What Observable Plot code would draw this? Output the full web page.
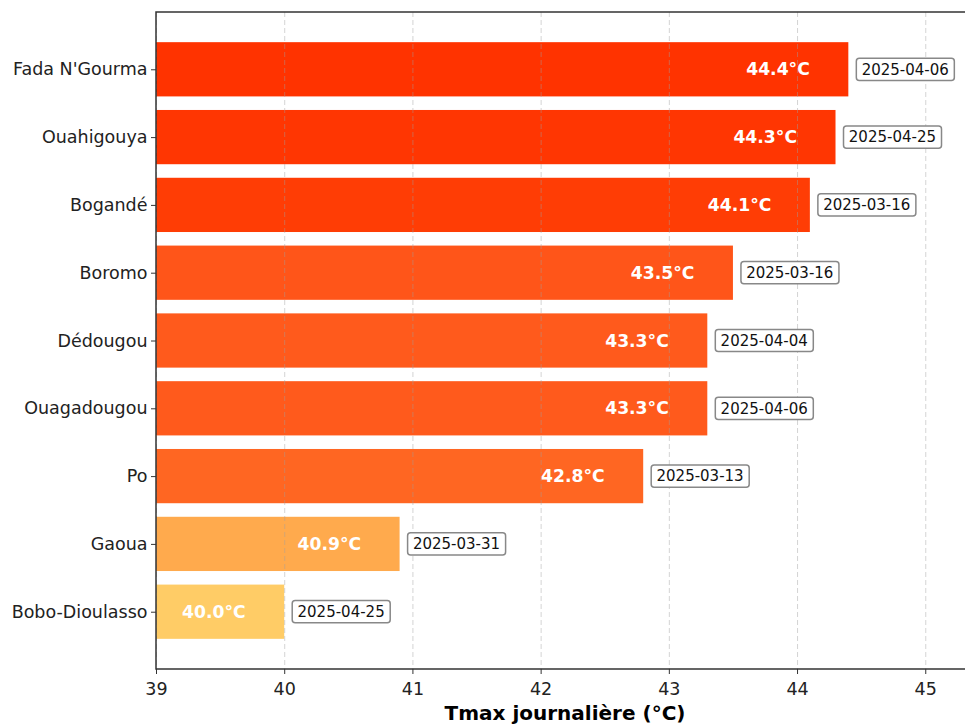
<!DOCTYPE html>
<html>
<head>
<meta charset="utf-8">
<script src="https://cdn.jsdelivr.net/npm/d3@7"></script>
<script src="https://cdn.jsdelivr.net/npm/@observablehq/plot@0.6"></script>
<style>
  html, body { margin: 0; padding: 0; background: #fff; overflow: hidden; }
  #chart svg { display: block; }
</style>
</head>
<body>
<div id="chart"></div>
<script>
const stations = ["Fada N'Gourma", "Ouahigouya", "Bogandé", "Boromo", "Dédougou", "Ouagadougou", "Po", "Gaoua", "Bobo-Dioulasso"];
const tmax = [44.4, 44.3, 44.1, 43.5, 43.3, 43.3, 42.8, 40.9, 40.0];
const dates = ["2025-04-06", "2025-04-25", "2025-03-16", "2025-03-16", "2025-04-04", "2025-04-06", "2025-03-13", "2025-03-31", "2025-04-25"];
const xTicks = [39, 40, 41, 42, 43, 44, 45];
const xLabel = "Tmax journalière (°C)";

const data = stations.map((s, i) => ({station: s, tmax: tmax[i], date: dates[i], label: tmax[i].toFixed(1) + "°C"}));

const frameLines = (index, scales, values, dims) => {
  const {width, height, marginLeft, marginTop, marginBottom} = dims;
  const yb = height - marginBottom;
  return d3.create("svg:path")
    .attr("d", `M${width},${marginTop}H${marginLeft}V${yb}H${width}`)
    .attr("fill", "none")
    .attr("stroke", "#333")
    .attr("stroke-width", 1.5)
    .node();
};

const chart = Plot.plot({
  width: 965,
  height: 726,
  marginLeft: 156,
  marginRight: 0,
  marginTop: 12,
  marginBottom: 57,
  style: {fontFamily: "DejaVu Sans", fontSize: "17.5px", color: "#222", background: "#fff"},
  x: {domain: [39, 45.31]},
  y: {domain: stations, paddingInner: 0.2, paddingOuter: 0.445, round: false},
  color: {
    type: "linear",
    domain: [40.0, 40.9, 42.8, 43.5, 44.1, 44.4],
    range: ["#ffcc66", "#ffaa4d", "#ff6622", "#ff5519", "#ff3d05", "#ff3300"],
    interpolate: "rgb"
  },
  marks: [
    Plot.barX(data, {x1: 39, x2: "tmax", y: "station", fill: "tmax"}),
    Plot.gridX(xTicks, {stroke: "#a0a0a0", strokeOpacity: 0.45, strokeDasharray: "5,3", strokeWidth: 1}),
    Plot.text(data, {x: "tmax", y: "station", text: "label", dx: -39, textAnchor: "end", fill: "white", fontWeight: "bold", fontSize: 17.2}),
    Plot.barX(data, {x1: "tmax", x2: "tmax", y: "station", insetLeft: 8, insetRight: -106, insetTop: 16, insetBottom: 16, fill: "white", stroke: "#888", strokeWidth: 1.5, rx: 3}),
    Plot.text(data, {x: "tmax", y: "station", text: "date", dx: 12.8, textAnchor: "start", fill: "#111", fontSize: 15}),
    Plot.axisY({tickSize: 5, tickPadding: 4, label: null, fontSize: 17.5, stroke: "#333"}),
    Plot.axisX({ticks: xTicks, tickFormat: d => String(d), tickSize: 5, tickPadding: 8, label: null, fontSize: 17.5, stroke: "#333"}),
    Plot.text([xLabel], {frameAnchor: "bottom", lineAnchor: "middle", dy: 44, dx: 4, fontWeight: "bold", fontSize: 20, fill: "#000"}),
    frameLines
  ]
});
document.getElementById("chart").appendChild(chart);
</script>
</body>
</html>
